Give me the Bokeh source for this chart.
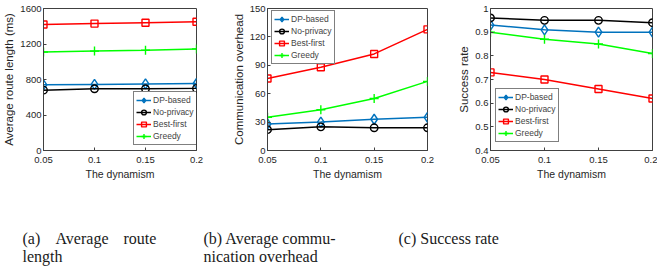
from bokeh.plotting import figure
from bokeh.layouts import row, column
from bokeh.models import Range1d, FixedTicker, Label, Legend
from bokeh.embed import file_html
from bokeh.resources import INLINE

# ---------------- data ----------------
dynamism = [0.05, 0.1, 0.15, 0.2]
x_ticks = [0.05, 0.1, 0.15, 0.2]
x_tick_labels = ["0.05", "0.1", "0.15", "0.2"]
x_label = "The dynamism"

series_names = ["DP-based", "No-privacy", "Best-first", "Greedy"]

route_dp = [740, 745, 750, 755]
route_noprivacy = [680, 695, 695, 700]
route_bestfirst = [1420, 1430, 1440, 1450]
route_greedy = [1110, 1120, 1130, 1145]
route_ticks = [0, 400, 800, 1200, 1600]
route_tick_labels = ["0", "400", "800", "1200", "1600"]

comm_dp = [28, 30, 33, 35]
comm_noprivacy = [22, 25, 24, 24]
comm_bestfirst = [76, 88, 102, 128]
comm_greedy = [35, 43, 55, 73]
comm_ticks = [0, 30, 60, 90, 120, 150]
comm_tick_labels = ["0", "30", "60", "90", "120", "150"]

succ_dp = [0.93, 0.91, 0.90, 0.90]
succ_noprivacy = [0.96, 0.95, 0.95, 0.94]
succ_bestfirst = [0.73, 0.70, 0.66, 0.62]
succ_greedy = [0.90, 0.87, 0.85, 0.81]
succ_ticks = [0.4, 0.5, 0.6, 0.7, 0.8, 0.9, 1]
succ_tick_labels = ["0.4", "0.5", "0.6", "0.7", "0.8", "0.9", "1"]

captions_a = [("(a)", 22), ("Average", 55), ("route", 123)]
caption_a2 = "length"
caption_b1 = "(b) Average commu-"
caption_b2 = "nication overhead"
caption_c = "(c) Success rate"

# ---------------- styles ----------------
FONT = "Liberation Sans"
AX_COLOR = "#404040"
colors = ["#0072BD", "#000000", "#FF0000", "#00FF00"]
markers = ["diamond", "circle", "square", "cross"]
msizes = [10, 7.5, 7, 9]
TOP = 8
FRAME_H = 142
ROW_H = 187
CAP_H = 83


def make_panel(width, left, right, ys, yr, yticks, ylabels, ylab, legend_loc):
    p = figure(width=width, height=ROW_H, output_backend="svg", toolbar_location=None,
               x_range=Range1d(0.05, 0.2), y_range=Range1d(*yr),
               min_border_left=left, min_border_right=right,
               min_border_top=TOP, min_border_bottom=ROW_H - TOP - FRAME_H)
    p.grid.visible = False
    p.outline_line_color = AX_COLOR
    p.outline_line_width = 1

    p.xaxis.ticker = FixedTicker(ticks=x_ticks)
    p.yaxis.ticker = FixedTicker(ticks=yticks)
    p.xaxis.major_label_overrides = {t: l for t, l in zip(x_ticks, x_tick_labels)}
    p.yaxis.major_label_overrides = {t: l for t, l in zip(yticks, ylabels)}
    for ax in (p.xaxis[0], p.yaxis[0]):
        ax.axis_line_color = AX_COLOR
        ax.major_tick_line_color = AX_COLOR
        ax.major_tick_in = 3
        ax.major_tick_out = 0
        ax.minor_tick_line_color = None
        ax.major_label_text_font = FONT
        ax.major_label_text_font_size = "9.5px"
        ax.major_label_text_color = "#262626"
        ax.axis_label_text_font = FONT
        ax.axis_label_text_font_style = "normal"
        ax.axis_label_text_color = "#262626"
    p.xaxis.axis_label = x_label
    p.xaxis.axis_label_text_font_size = "10.5px"
    p.xaxis.major_label_standoff = 6
    p.xaxis.axis_label_standoff = 2
    p.yaxis.axis_label = ylab
    p.yaxis.axis_label_text_font_size = "11.5px"
    p.yaxis.major_label_standoff = 2
    p.yaxis.axis_label_standoff = 2

    items = []
    for name, y, c, m, s in zip(series_names, ys, colors, markers, msizes):
        l = p.line(dynamism, y, line_color=c, line_width=1.5)
        sc = p.scatter(dynamism, y, marker=m, size=s, line_color=c, line_width=1.4,
                       fill_color=None)
        items.append((name, [l, sc]))
    leg = Legend(items=items, location=legend_loc)
    leg.label_text_font = FONT
    leg.label_text_font_size = "8.5px"
    leg.label_height = 12
    leg.glyph_height = 12
    leg.glyph_width = 15
    leg.label_standoff = 2
    leg.spacing = 0
    leg.padding = 2
    leg.margin = 0
    leg.border_line_color = "#000000"
    leg.border_line_width = 1
    leg.background_fill_alpha = 1
    p.add_layout(leg, "center")
    return p


pa = make_panel(226, 41, 30,
                [route_dp, route_noprivacy, route_bestfirst, route_greedy],
                (0, 1600), route_ticks, route_tick_labels,
                "Average route length (ms)", (90, 5))
pb = make_panel(223, 41, 22,
                [comm_dp, comm_noprivacy, comm_bestfirst, comm_greedy],
                (0, 150), comm_ticks, comm_tick_labels,
                "Communication overhead", (4, 86))
pc = make_panel(208, 41, 5,
                [succ_dp, succ_noprivacy, succ_bestfirst, succ_greedy],
                (0.4, 1), succ_ticks, succ_tick_labels,
                "Success rate", (5, 8))

cap = figure(width=657, height=CAP_H, output_backend="svg", toolbar_location=None,
             x_range=Range1d(0, 657), y_range=Range1d(0, CAP_H),
             x_axis_type=None, y_axis_type=None,
             min_border_left=0, min_border_right=0, min_border_top=0, min_border_bottom=0)
cap.grid.visible = False
cap.outline_line_color = None


def cap_text(x, y, t):
    cap.add_layout(Label(x=x, y=y, text=t, text_font="Liberation Serif",
                         text_font_size="16px", text_color="#1a1a1a",
                         text_baseline="alphabetic", text_align="left"))


for t, x in captions_a:
    cap_text(x, 32, t)
cap_text(22, 14, caption_a2)
cap_text(203, 32, caption_b1)
cap_text(203, 14, caption_b2)
cap_text(398, 32, caption_c)

layout = column(row(pa, pb, pc, spacing=0), cap, spacing=0)
open("out.html", "w").write(file_html(layout, INLINE))
